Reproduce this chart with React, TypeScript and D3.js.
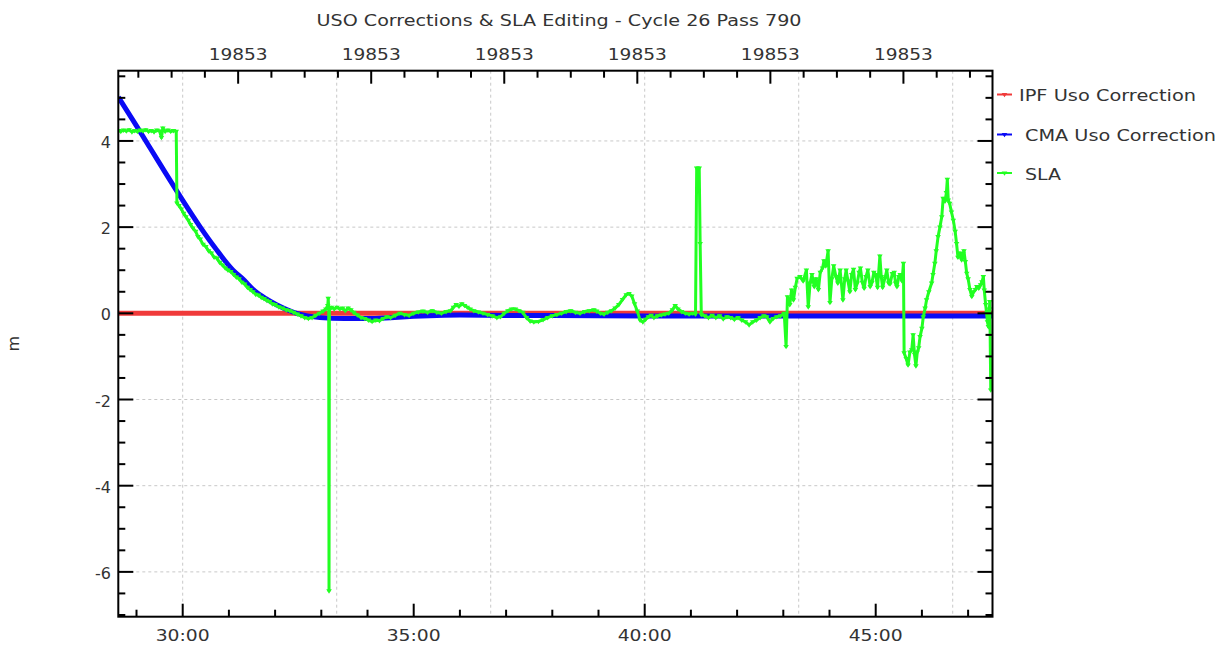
import { useEffect, useRef } from "react";
import * as d3 from "d3";

// ---- chart data ----
const title = "USO Corrections & SLA Editing - Cycle 26 Pass 790";
const dayNumber = 19853; // top axis: CNES day
const passHour = 5; // bottom axis shows mm:ss within this hour
const timeRange: [number, number] = [28.606, 47.528]; // minutes
const valueRange: [number, number] = [-7.04, 5.63]; // metres
const gridStepSeconds = 200;

const seriesNames = ["IPF Uso Correction", "CMA Uso Correction", "SLA"];
const seriesColors = ["#f03a3a", "#0a0af5", "#22ff22"];

const ipfSeries: [number, number][] = [[28.606, 0], [47.528, 0]];

const cmaSeries: [number, number][] = [
    [28.606, 5.02], [29.0, 4.35], [29.5, 3.48], [29.87, 2.84], [30.0, 2.62], [30.38, 2.0],
    [30.7, 1.52], [31.09, 1.0], [31.3, 0.8], [31.56, 0.52], [31.8, 0.34], [32.03, 0.2],
    [32.25, 0.09], [32.47, 0.0], [32.7, -0.06], [32.97, -0.1], [33.5, -0.12], [34.0, -0.12],
    [34.5, -0.1], [35.0, -0.07], [35.5, -0.05], [36.0, -0.04], [37.0, -0.05], [38.0, -0.05],
    [40.0, -0.06], [42.0, -0.06], [44.0, -0.06], [46.0, -0.06], [47.528, -0.06],
];

const slaSeries: [number, number][] = [
    [28.61, 4.24], [28.66, 4.22], [28.72, 4.25], [28.78, 4.23], [28.84, 4.26], [28.9, 4.21], [28.96, 4.24],
    [29.02, 4.22], [29.08, 4.25], [29.14, 4.23], [29.2, 4.26], [29.26, 4.22], [29.32, 4.24], [29.38, 4.21],
    [29.44, 4.25], [29.5, 4.23], [29.54, 4.08], [29.57, 4.3], [29.62, 4.22], [29.68, 4.25], [29.74, 4.22],
    [29.8, 4.24], [29.86, 4.22], [29.875, 2.56], [29.92, 2.5], [29.97, 2.42], [30.02, 2.32], [30.07, 2.24],
    [30.12, 2.16], [30.17, 2.06], [30.22, 1.98], [30.28, 1.9], [30.33, 1.78], [30.38, 1.72], [30.44, 1.6],
    [30.5, 1.55], [30.56, 1.45], [30.62, 1.4], [30.68, 1.3], [30.74, 1.28], [30.8, 1.18], [30.86, 1.12],
    [30.92, 1.05], [30.98, 1.0], [31.04, 0.97], [31.1, 0.9], [31.16, 0.84], [31.22, 0.8], [31.28, 0.72],
    [31.34, 0.68], [31.4, 0.6], [31.46, 0.55], [31.52, 0.5], [31.58, 0.44], [31.64, 0.42], [31.7, 0.37],
    [31.76, 0.34], [31.82, 0.3], [31.88, 0.27], [31.94, 0.22], [32.0, 0.2], [32.08, 0.15], [32.16, 0.12],
    [32.24, 0.08], [32.32, 0.06], [32.4, 0.02], [32.48, -0.02], [32.56, -0.06], [32.64, -0.1], [32.72, -0.12],
    [32.8, -0.1], [32.88, -0.05], [32.96, 0.0], [33.04, 0.05], [33.1, 0.1], [33.14, 0.18], [33.15, 0.35],
    [33.16, 0.12], [33.167, -6.44], [33.175, 0.08], [33.22, 0.14], [33.28, 0.1], [33.34, 0.14], [33.4, 0.1],
    [33.46, 0.12], [33.52, 0.06], [33.58, 0.12], [33.64, 0.08], [33.7, 0.02], [33.78, -0.04], [33.86, -0.1],
    [33.94, -0.12], [34.02, -0.16], [34.1, -0.19], [34.18, -0.16], [34.26, -0.17], [34.34, -0.12], [34.42, -0.08],
    [34.5, -0.1], [34.6, -0.05], [34.7, 0.0], [34.8, -0.03], [34.9, -0.05], [35.0, 0.0], [35.1, 0.03],
    [35.2, 0.05], [35.3, 0.02], [35.4, 0.06], [35.5, 0.02], [35.6, 0.0], [35.7, 0.04], [35.8, 0.06],
    [35.86, 0.14], [35.92, 0.2], [35.98, 0.16], [36.04, 0.22], [36.1, 0.18], [36.16, 0.14], [36.22, 0.1],
    [36.3, 0.06], [36.4, 0.03], [36.5, 0.0], [36.6, -0.03], [36.7, -0.06], [36.8, -0.1], [36.88, -0.08],
    [36.96, 0.0], [37.04, 0.06], [37.12, 0.1], [37.2, 0.1], [37.28, 0.06], [37.36, 0.02], [37.44, -0.1],
    [37.52, -0.18], [37.6, -0.2], [37.7, -0.19], [37.8, -0.15], [37.9, -0.1], [38.0, -0.06], [38.1, -0.03],
    [38.2, 0.0], [38.3, 0.04], [38.4, 0.06], [38.5, 0.02], [38.6, 0.0], [38.7, 0.04], [38.8, 0.06],
    [38.9, 0.08], [38.96, 0.05], [39.04, 0.0], [39.12, -0.02], [39.2, 0.02], [39.28, 0.06], [39.36, 0.12],
    [39.44, 0.2], [39.52, 0.32], [39.6, 0.43], [39.66, 0.46], [39.72, 0.4], [39.78, 0.22], [39.84, 0.05],
    [39.9, -0.16], [39.96, -0.2], [40.02, -0.14], [40.08, -0.08], [40.14, -0.05], [40.2, -0.1], [40.28, -0.06],
    [40.36, -0.04], [40.44, -0.02], [40.52, 0.0], [40.6, 0.08], [40.66, 0.18], [40.72, 0.1], [40.8, 0.04],
    [40.88, 0.0], [40.96, -0.02], [41.04, 0.0], [41.1, -0.02], [41.125, 3.37], [41.18, 3.37], [41.2, 1.62],
    [41.225, -0.03], [41.3, -0.06], [41.38, -0.1], [41.46, -0.05], [41.54, -0.1], [41.62, -0.06], [41.7, -0.13],
    [41.78, -0.08], [41.86, -0.1], [41.94, -0.14], [42.02, -0.1], [42.1, -0.16], [42.18, -0.2], [42.26, -0.27],
    [42.34, -0.2], [42.42, -0.16], [42.5, -0.1], [42.58, -0.06], [42.64, -0.08], [42.71, -0.2], [42.78, -0.12],
    [42.86, -0.08], [42.94, -0.06], [43.02, 0.0], [43.06, -0.77], [43.09, 0.38], [43.14, 0.2], [43.18, 0.54],
    [43.22, 0.31], [43.26, 0.6], [43.3, 0.81], [43.36, 0.85], [43.43, 0.75], [43.5, 1.0], [43.54, 0.15],
    [43.58, 0.7], [43.62, 0.9], [43.67, 0.62], [43.71, 0.8], [43.76, 0.55], [43.8, 0.95], [43.85, 1.05],
    [43.88, 1.22], [43.92, 1.1], [43.97, 1.45], [44.01, 0.25], [44.05, 0.8], [44.09, 1.1], [44.14, 0.85],
    [44.18, 0.7], [44.23, 1.0], [44.29, 0.31], [44.33, 0.8], [44.36, 1.0], [44.4, 0.75], [44.44, 0.5],
    [44.48, 0.9], [44.52, 1.02], [44.56, 0.55], [44.6, 0.7], [44.64, 0.95], [44.67, 1.05], [44.71, 0.72],
    [44.75, 0.58], [44.79, 0.85], [44.83, 1.0], [44.88, 0.62], [44.92, 0.72], [44.96, 0.95], [45.0, 0.9],
    [45.04, 0.6], [45.09, 1.33], [45.12, 0.85], [45.15, 0.6], [45.2, 0.82], [45.24, 1.0], [45.28, 0.7],
    [45.31, 0.68], [45.36, 0.92], [45.4, 0.95], [45.43, 0.7], [45.46, 0.62], [45.5, 0.85], [45.53, 0.9],
    [45.57, 0.75], [45.6, 1.16], [45.615, -0.92], [45.66, -1.05], [45.7, -1.2], [45.74, -0.9], [45.78, -0.85],
    [45.81, -0.5], [45.84, -0.95], [45.87, -1.22], [45.9, -0.9], [45.93, -0.8], [45.96, -0.54], [46.0, -0.35],
    [46.03, -0.08], [46.07, 0.12], [46.1, 0.31], [46.15, 0.5], [46.21, 0.7], [46.24, 0.9], [46.28, 1.16],
    [46.31, 1.45], [46.35, 1.78], [46.39, 2.0], [46.43, 2.24], [46.46, 2.67], [46.5, 2.6], [46.53, 2.8],
    [46.55, 3.11], [46.57, 2.63], [46.6, 2.55], [46.64, 2.35], [46.68, 2.16], [46.72, 1.9], [46.75, 1.62],
    [46.78, 1.3], [46.82, 1.4], [46.86, 1.24], [46.89, 1.38], [46.91, 1.45], [46.94, 1.2], [46.97, 0.93],
    [47.0, 0.8], [47.04, 0.55], [47.08, 0.39], [47.12, 0.5], [47.16, 0.55], [47.19, 0.62], [47.23, 0.58],
    [47.27, 0.66], [47.3, 0.73], [47.33, 0.85], [47.35, 0.54], [47.38, 0.2], [47.4, 0.0], [47.42, -0.2],
    [47.44, -0.31], [47.46, 0.1], [47.47, 0.27], [47.49, -1.78],
];

const W = 1221;
const H = 646;
const plot = { left: 118.3, right: 992.5, top: 70.7, bottom: 616.7 };
const FONT = "DejaVu Sans, Verdana, sans-serif";
const TEXT = "#333";

const App: React.FC = () => {
    const svgRef = useRef<SVGSVGElement | null>(null);

    useEffect(() => {
        if (!svgRef.current) return;
        const svg = d3.select(svgRef.current);
        svg.selectAll("*").remove();

        const x = d3.scaleLinear().domain(timeRange).range([plot.left, plot.right]);
        const y = d3.scaleLinear().domain(valueRange).range([plot.bottom, plot.top]);
        const toDay = (m: number) => (passHour * 60 + m) / 1440;
        const xDay = d3.scaleLinear().domain(timeRange.map(toDay)).range([plot.left, plot.right]);

        // Grid
        const grid = svg.append("g")
            .attr("stroke", "#c8c8c8").attr("stroke-width", 1).attr("stroke-dasharray", "3,3");
        d3.range(0, 10).map(k => 30 + k * gridStepSeconds / 60)
            .filter(m => m < timeRange[1])
            .forEach(m => {
                grid.append("line").attr("x1", x(m)).attr("x2", x(m))
                    .attr("y1", plot.top).attr("y2", plot.bottom);
            });
        d3.range(-6, 5, 2).forEach(v => {
            grid.append("line").attr("x1", plot.left).attr("x2", plot.right)
                .attr("y1", y(v)).attr("y2", y(v));
        });

        // Series
        svg.append("clipPath").attr("id", "plotClip").append("rect")
            .attr("x", plot.left).attr("y", plot.top)
            .attr("width", plot.right - plot.left).attr("height", plot.bottom - plot.top);
        const plotG = svg.append("g").attr("clip-path", "url(#plotClip)");

        const line = d3.line<[number, number]>().x(d => x(d[0])).y(d => y(d[1]));

        plotG.append("path").datum(ipfSeries).attr("d", line)
            .attr("fill", "none").attr("stroke", seriesColors[0]).attr("stroke-width", 5);

        plotG.append("path").datum(cmaSeries).attr("d", line.curve(d3.curveMonotoneX))
            .attr("fill", "none").attr("stroke", seriesColors[1]).attr("stroke-width", 5);
        line.curve(d3.curveLinear);

        plotG.append("path").datum(slaSeries).attr("d", line)
            .attr("fill", "none").attr("stroke", seriesColors[2]).attr("stroke-width", 3)
            .attr("stroke-linejoin", "round");
        const tri = "M-2.8,-1.6L2.8,-1.6L0,2.8Z";
        plotG.append("g").selectAll("path").data(slaSeries).enter().append("path")
            .attr("d", tri)
            .attr("transform", d => `translate(${x(d[0])},${y(d[1])})`)
            .attr("fill", seriesColors[2]);

        // Axes ticks
        const ticks = svg.append("g").attr("stroke", "#000").attr("stroke-width", 2);
        const labels = svg.append("g").attr("font-family", FONT).attr("font-size", 16).attr("fill", TEXT);

        // bottom: minutes
        d3.range(Math.ceil(timeRange[0]), Math.floor(timeRange[1]) + 1).forEach(m => {
            const major = m % 5 === 0;
            const len = major ? 13 : 7;
            ticks.append("line").attr("x1", x(m)).attr("x2", x(m))
                .attr("y1", plot.bottom).attr("y2", plot.bottom - len);
            if (major) {
                labels.append("text").attr("x", x(m)).attr("y", 641)
                    .attr("text-anchor", "middle")
                    .attr("textLength", 54).attr("lengthAdjust", "spacingAndGlyphs")
                    .text(`${m}:00`);
            }
        });

        // top: day number
        const step = 0.0005;
        const d0 = toDay(timeRange[0]);
        const d1 = toDay(timeRange[1]);
        d3.range(Math.ceil(d0 / step), Math.floor(d1 / step) + 1).forEach(k => {
            const xp = xDay(k * step);
            const major = k % 4 === 0;
            ticks.append("line").attr("x1", xp).attr("x2", xp)
                .attr("y1", plot.top).attr("y2", plot.top + (major ? 13 : 7));
            if (major) {
                labels.append("text").attr("x", xp).attr("y", 60)
                    .attr("text-anchor", "middle")
                    .attr("textLength", 59).attr("lengthAdjust", "spacingAndGlyphs")
                    .text(d3.format("d")(Math.floor(dayNumber + k * step)));
            }
        });

        // left and right: metres
        d3.range(Math.ceil(valueRange[0] * 2), Math.floor(valueRange[1] * 2) + 1).forEach(k => {
            const v = k / 2;
            const major = k % 4 === 0;
            const len = major ? 15 : 7;
            ticks.append("line").attr("x1", plot.left).attr("x2", plot.left + len)
                .attr("y1", y(v)).attr("y2", y(v));
            ticks.append("line").attr("x1", plot.right).attr("x2", plot.right - len)
                .attr("y1", y(v)).attr("y2", y(v));
            if (major) {
                labels.append("text").attr("x", 111).attr("y", y(v) + 7)
                    .attr("text-anchor", "end")
                    .text(d3.format("d")(v).replace("−", "-"));
            }
        });

        // Frame
        svg.append("rect")
            .attr("x", plot.left).attr("y", plot.top)
            .attr("width", plot.right - plot.left).attr("height", plot.bottom - plot.top)
            .attr("fill", "none").attr("stroke", "#000").attr("stroke-width", 2);

        // Title and axis label
        labels.append("text").attr("x", 559).attr("y", 26)
            .attr("text-anchor", "middle").attr("font-size", 15.5)
            .attr("textLength", 485).attr("lengthAdjust", "spacingAndGlyphs")
            .text(title);
        labels.append("text")
            .attr("transform", `translate(19,${(plot.top + plot.bottom) / 2}) rotate(-90)`)
            .attr("text-anchor", "middle")
            .text("m");

        // Legend
        const legendRows = [
            { y: 94.5, textX: 1019, base: 100.7, len: 177 },
            { y: 134.5, textX: 1025, base: 140.5, len: 191 },
            { y: 173, textX: 1025, base: 180, len: 36 },
        ];
        legendRows.forEach((row, i) => {
            svg.append("line").attr("x1", 997).attr("x2", 1012)
                .attr("y1", row.y).attr("y2", row.y)
                .attr("stroke", seriesColors[i]).attr("stroke-width", 2);
            svg.append("path").attr("d", tri)
                .attr("transform", `translate(1004.5,${row.y})`)
                .attr("fill", seriesColors[i]);
            labels.append("text").attr("x", row.textX).attr("y", row.base)
                .attr("textLength", row.len).attr("lengthAdjust", "spacingAndGlyphs")
                .text(seriesNames[i]);
        });
    }, []);

    return (
        <svg ref={svgRef} width={W} height={H}
            style={{ position: "absolute", left: 0, top: 0, background: "#fff" }} />
    );
};

export default App;
